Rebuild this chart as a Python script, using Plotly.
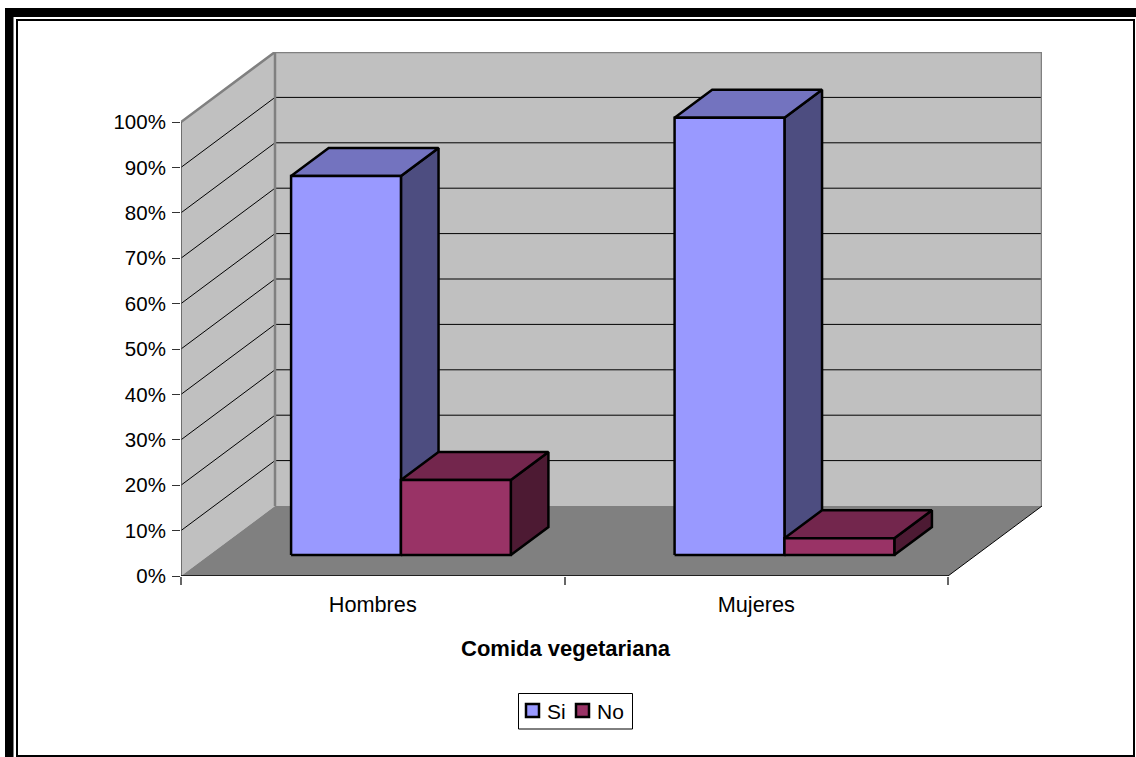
import plotly.graph_objects as go

# ---- data ----
categories = ["Hombres", "Mujeres"]
si_values = [83.5, 96.3]
no_values = [16.5, 3.7]
series_names = ["Si", "No"]
y_ticks = [0, 10, 20, 30, 40, 50, 60, 70, 80, 90, 100]
axis_title = "Comida vegetariana"

W, H = 1136, 757
FONT = "Liberation Sans"

# pixel layout of the 3-D box
X0_PX, X_CAT_PX = 181, 383.5   # left of axis, width of a category
Y0_PX, Y_PCT_PX = 576, 4.54    # 0 % line, px per %
DX_PX, DY_PX = 94, 70          # full depth offset
RIGHT_PX = X0_PX + 2 * X_CAT_PX + DX_PX
TOP_PX = Y0_PX - 100 * Y_PCT_PX - DY_PX

DX = DX_PX / X_CAT_PX          # depth in category units
DY = DY_PX / Y_PCT_PX          # depth in percent units
GAP = 0.2135
BAR = 0.2865
D_FRONT, D_BACK = 0.30, 0.70

C_WALL, C_FLOOR, C_EDGE = "#C0C0C0", "#808080", "#808080"
COLORS = {
    "Si": ("#9999FF", "#7373BF", "#4D4D80"),
    "No": ("#993366", "#73264D", "#4D1A33"),
}


def proj(x, y, d):
    return x + d * DX, y + d * DY


def poly(points, fill=None, line=None, width=1, close=True, name=None):
    xs = [p[0] for p in points]
    ys = [p[1] for p in points]
    if close:
        xs.append(xs[0])
        ys.append(ys[0])
    return go.Scatter(
        x=xs, y=ys, mode="lines", showlegend=False, hoverinfo="skip", name=name,
        fill="toself" if fill else None, fillcolor=fill,
        line=dict(color=line or "rgba(0,0,0,0)", width=width if line else 0),
    )


fig = go.Figure()
xmax = 2.0

# walls and floor
fig.add_trace(poly([proj(0, 0, 0), proj(0, 0, 1), proj(0, 100, 1), proj(0, 100, 0)], fill=C_WALL))
fig.add_trace(poly([proj(0, 0, 1), proj(xmax, 0, 1), proj(xmax, 100, 1), proj(0, 100, 1)], fill=C_WALL))
fig.add_trace(poly([proj(0, 0, 0), proj(xmax, 0, 0), proj(xmax, 0, 1), proj(0, 0, 1)], fill=C_FLOOR))

# gridlines on both walls
for t in y_ticks[1:-1]:
    fig.add_trace(poly([proj(0, t, 0), proj(0, t, 1), proj(xmax, t, 1)], line="#000000", width=1, close=False))

# wall edges
fig.add_trace(poly([proj(0, 0, 1), proj(0, 100, 1)], line=C_EDGE, width=2.5, close=False))
fig.add_trace(poly([proj(0, 100, 0), proj(0, 100, 1), proj(xmax, 100, 1), proj(xmax, 0, 1)], line=C_EDGE, width=2.5, close=False))
fig.add_trace(poly([proj(xmax, 0, 0), proj(xmax, 0, 1)], line="#000000", width=1, close=False))

# axis lines
fig.add_trace(poly([proj(0, 0, 0), proj(0, 100, 0)], line="#555555", width=1.5, close=False))
fig.add_trace(poly([proj(0, 0, 0), proj(xmax, 0, 0)], line="#000000", width=1.5, close=False))


def add_bar(x_left, value, colors, name):
    front, top, side = colors
    x_right = x_left + BAR
    a = proj(x_left, 0, D_FRONT)
    b = proj(x_right, 0, D_FRONT)
    c = proj(x_right, value, D_FRONT)
    d = proj(x_left, value, D_FRONT)
    e = proj(x_right, 0, D_BACK)
    f = proj(x_right, value, D_BACK)
    g = proj(x_left, value, D_BACK)
    fig.add_trace(poly([b, e, f, c], fill=side, line="#000000", width=2.5, name=name))
    fig.add_trace(poly([d, c, f, g], fill=top, line="#000000", width=2.5, name=name))
    fig.add_trace(poly([a, b, c, d], fill=front, line="#000000", width=2.5, name=name))


for i, cat in enumerate(categories):
    add_bar(i + GAP, si_values[i], COLORS["Si"], "Si")
for i, cat in enumerate(categories):
    add_bar(i + GAP + BAR, no_values[i], COLORS["No"], "No")

# invisible trace that carries the label axis
fig.add_trace(go.Scatter(x=[0.5, 1.5], y=[0, 0], xaxis="x2", mode="markers", opacity=0,
                         showlegend=False, hoverinfo="skip"))


def px_x(v):
    return v / W


def px_y(v):
    return 1 - v / H


x_range = [0, (RIGHT_PX - X0_PX) / X_CAT_PX]
y_range = [0, (Y0_PX - TOP_PX) / Y_PCT_PX]
x_domain = [px_x(X0_PX), px_x(RIGHT_PX)]
y_domain = [px_y(Y0_PX), px_y(TOP_PX)]

# frame
frame = [
    (5, 8, 13.5, H),      # thick left
    (5, 8, W, 17),        # thick top
    (16, 19, W - 3, 21),  # thin top
    (16, 19, 18, H),      # thin left
    (W - 3, 19, W - 1, H),# thin right
    (16, H - 2, W - 1, H),# thin bottom
]
shapes = [
    dict(type="rect", xref="paper", yref="paper", x0=px_x(a), x1=px_x(c), y0=px_y(b), y1=px_y(d),
         fillcolor="#000000", line=dict(width=0), layer="below")
    for a, b, c, d in frame
]

# legend box, keys and labels
annotations = [dict(text=f"<b>{axis_title}</b>", xref="paper", yref="paper", x=px_x(566), y=px_y(648),
                    xanchor="center", yanchor="middle", showarrow=False, font=dict(size=22))]
shapes.append(dict(type="rect", xref="paper", yref="paper", x0=px_x(518.5), x1=px_x(632.5),
                   y0=px_y(693.5), y1=px_y(729), line=dict(color="#000000", width=1), fillcolor="#FFFFFF"))
for name, key_x, text_x in zip(series_names, (526, 576), (545, 595)):
    shapes.append(dict(type="rect", xref="paper", yref="paper", x0=px_x(key_x), x1=px_x(key_x + 13),
                       y0=px_y(704), y1=px_y(717), fillcolor=COLORS[name][0],
                       line=dict(color="#000000", width=2.5)))
    annotations.append(dict(text=name, xref="paper", yref="paper", x=px_x(text_x), y=px_y(711),
                            xanchor="left", yanchor="middle", showarrow=False, font=dict(size=21)))

fig.update_layout(
    width=W, height=H, autosize=False, showlegend=False,
    margin=dict(l=0, r=0, t=0, b=0, autoexpand=False),
    paper_bgcolor="#FFFFFF", plot_bgcolor="rgba(0,0,0,0)",
    font=dict(family=FONT, size=21, color="#000000"),
    shapes=shapes,
    annotations=annotations,
    xaxis=dict(domain=x_domain, range=x_range, anchor="y", showgrid=False, zeroline=False, showline=False,
               automargin=False, tickmode="array", tickvals=[0, 1, 2], ticktext=["", "", ""], ticks="outside",
               ticklen=8, tickwidth=1.5, tickcolor="#666666", fixedrange=True),
    xaxis2=dict(domain=x_domain, range=x_range, anchor="y", overlaying="x", side="bottom",
                showgrid=False, zeroline=False, showline=False, automargin=False,
                tickmode="array", tickvals=[0.5, 1.5], ticktext=categories, ticks="outside",
                ticklen=9, tickcolor="rgba(0,0,0,0)", tickfont=dict(size=21.7), fixedrange=True),
    yaxis=dict(domain=y_domain, range=y_range, showgrid=False, zeroline=False, showline=False,
               automargin=False, tickmode="array", tickvals=y_ticks, ticktext=[f"{t}%" for t in y_ticks],
               ticks="outside", ticklen=8, tickwidth=1, tickcolor="#333333", ticklabelstandoff=2,
               tickfont=dict(size=20.5), fixedrange=True),
)

fig.write_html("out.html", default_width=W, default_height=H,
               post_script="document.body.style.margin='0';document.body.style.overflow='hidden';",
               config=dict(displayModeBar=False, responsive=False))
